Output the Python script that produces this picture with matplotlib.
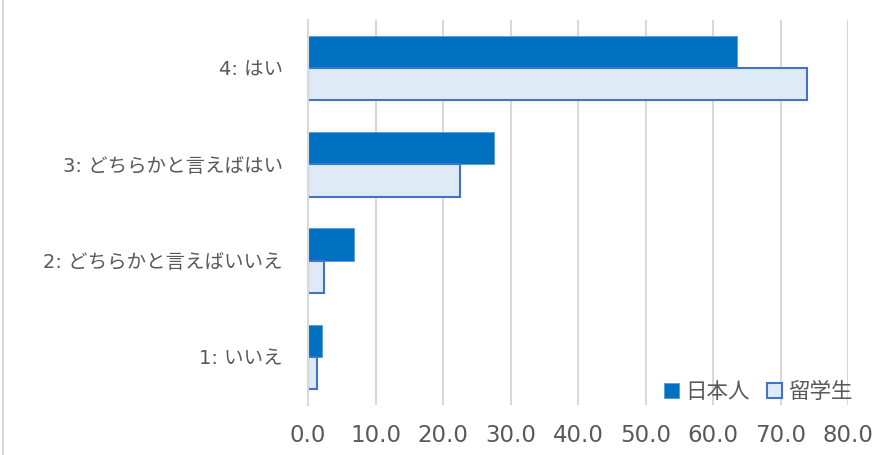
import numpy as np
import matplotlib.pyplot as plt
from matplotlib.lines import Line2D

plt.rcParams['font.family'] = ['DejaVu Sans', 'Noto Sans CJK JP']

categories = ['1: いいえ', '2: どちらかと言えばいいえ', '3: どちらかと言えばはい', '4: はい']
japanese = [2.1, 6.8, 27.6, 63.6]
intl = [1.4, 2.3, 22.5, 73.9]
xticks = [0, 10, 20, 30, 40, 50, 60, 70, 80]

txt = '#595959'
fig = plt.figure(figsize=(8.96, 4.55), dpi=100)
ax = fig.add_axes([308 / 896, 1 - 405 / 455, 540 / 896, 385 / 455])

y = np.arange(len(categories))
h = 0.335
ax.barh(y + h / 2, japanese, height=h, color='#0070C0', edgecolor='#5B9BD5',
        linewidth=0.6, label='日本人', zorder=3)
ax.barh(y - h / 2, intl, height=h, color='#DEEAF6', edgecolor='#4472C4',
        linewidth=1.5, label='留学生', zorder=3)

ax.set_xlim(0, 80)
ax.set_ylim(-0.5, 3.5)
ax.set_xticks(xticks)
ax.set_xticklabels([f'{v:.1f}' for v in xticks])
ax.set_yticks(y)
ax.set_yticklabels(categories)
ax.tick_params(axis='x', length=0, labelsize=16.5, colors=txt, pad=14)
ax.tick_params(axis='y', length=0, labelsize=14, colors=txt, pad=18)
ax.xaxis.grid(True, color='#D9D9D9', linewidth=1.5, zorder=0)
for s in ['top', 'right', 'bottom']:
    ax.spines[s].set_visible(False)
ax.spines['left'].set_color('#D9D9D9')
ax.spines['left'].set_linewidth(1.5)
ax.spines['left'].set_zorder(4)

leg = ax.legend(loc='lower right', bbox_to_anchor=(1.045, -0.045), ncol=2, frameon=False,
                fontsize=15.5, labelcolor=txt, handlelength=0.7, handleheight=0.7,
                handletextpad=0.3, columnspacing=0.8,
                prop={'family': ['Noto Sans CJK JP'], 'size': 15.5})

fig.add_artist(Line2D([3 / 896, 3 / 896], [0, 1], color='#D9D9D9', linewidth=1.5))

plt.savefig('out.png', dpi=100)
plt.close()
